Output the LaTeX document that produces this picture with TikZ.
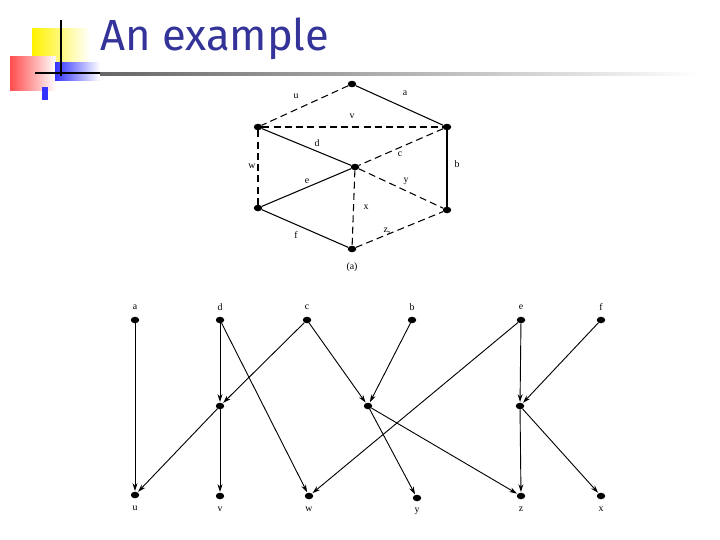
\documentclass[tikz,border=0pt]{standalone}
\usepackage{fontspec}
\setmainfont{Liberation Serif}
\newfontfamily\titlefont{Fira Sans}
\usetikzlibrary{arrows.meta,shapes.geometric}
\definecolor{tblue}{RGB}{51,51,153}
\begin{document}
\begin{tikzpicture}[x=0.1cm,y=-0.1cm,
  dot/.style={ellipse,fill=black,inner sep=0pt,minimum width=0.85cm,minimum height=0.65cm},
  lab/.style={font=\fontsize{28}{28}\selectfont,inner sep=0pt},
  sol/.style={line width=3pt},
  dsh/.style={line width=3pt,dash pattern=on 20pt off 12pt},
  arr/.style={line width=2.6pt,-{Stealth[length=22pt,width=14pt]},shorten >=2pt}]
\useasboundingbox (0,0) rectangle (720,540);
% logo
\shade[left color=yellow!90!orange,right color=white] (32,28) rectangle (90,62);
\shade[left color=red!70,right color=white] (10,56) rectangle (56,90);
\shade[left color=blue!80,right color=white] (55,62) rectangle (100,80);
\fill[blue!80] (42,87) rectangle (48,100);
\draw[line width=6pt] (61,20) -- (61,76);
\draw[line width=6pt] (35,73) -- (100,73);
\shade[left color=gray!80!black,right color=white] (100,72) rectangle (700,75);
\node[anchor=west,text=tblue,font=\titlefont\fontsize{124}{124}\selectfont,inner sep=0pt] (title) at (100,39) {An example};
% top graph
\node[dot] (T) at (352,84) {};
\node[dot] (UL) at (258,127) {};
\node[dot] (UR) at (447,127) {};
\node[dot] (C) at (355,167) {};
\node[dot] (LL) at (258,208) {};
\node[dot] (LR) at (447,210) {};
\node[dot] (B) at (352,249) {};
\draw[dsh] (T)--(UL); \draw[sol] (T)--(UR); \draw[dsh] (UL)--(UR);
\draw[sol] (UL)--(C); \draw[dsh] (UR)--(C); \draw[dsh] (UL)--(LL);
\draw[sol] (UR)--(LR); \draw[sol] (C)--(LL); \draw[dsh] (C)--(LR);
\draw[dsh] (C)--(B); \draw[sol] (LL)--(B); \draw[dsh] (B)--(LR);
\node[lab] (lu) at (296,96) {u}; \node[lab] (la) at (405,93) {a};
\node[lab] (lv) at (352,116) {v}; \node[lab] (ld) at (317,143) {d};
\node[lab] (lc) at (400,154) {c}; \node[lab] (lw) at (252,166) {w};
\node[lab] (lb) at (457,164) {b}; \node[lab] (le) at (307,181) {e};
\node[lab] (ly) at (406,181) {y}; \node[lab] (lx) at (366,207) {x};
\node[lab] (lf) at (296,235) {f}; \node[lab] (lz) at (387,231) {z,};
\node[lab] (lcap) at (352,267) {(a)};
% bottom graph
\foreach \n/\x in {a/135,d/220,c/307,b/412,e/521,f/601}{
  \node[dot] (t\n) at (\x,320) {};
  \node[lab] (lt\n) at (\x,307) {\n};}
\node[dot] (m1) at (220,406) {};
\node[dot] (m2) at (368,406) {};
\node[dot] (m3) at (520,406) {};
\foreach \n/\x/\y in {u/135/495,v/220/496,w/309/496,y/417/498,z/521/496,x/601/496}{
  \node[dot] (b\n) at (\x,\y) {};
  \node[lab] (lb\n) at (\x,\y+13) {\n};}
\draw[arr] (ta)--(bu); \draw[arr] (td)--(m1); \draw[arr] (tc)--(m1);
\draw[arr] (m1)--(bu); \draw[arr] (m1)--(bv); \draw[arr] (td)--(bw);
\draw[arr] (tc)--(m2); \draw[arr] (tb)--(m2); \draw[arr] (m2)--(by);
\draw[arr] (m2)--(bz); \draw[arr] (te)--(bw); \draw[arr] (te)--(m3);
\draw[arr] (tf)--(m3); \draw[arr] (m3)--(bz); \draw[arr] (m3)--(bx);
\end{tikzpicture}
\end{document}
